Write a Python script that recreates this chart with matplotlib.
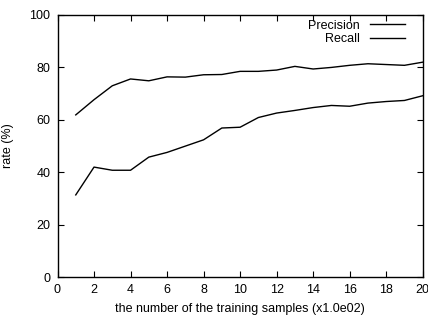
import numpy as np
import matplotlib.pyplot as plt

plt.rcParams['font.family'] = ['Liberation Sans', 'DejaVu Sans']
plt.rcParams['font.size'] = 9

# data
samples = list(range(1, 21))
precision = [61.8, 67.6, 72.9, 75.5, 74.8, 76.3, 76.2, 77.1, 77.2, 78.4,
             78.4, 78.9, 80.3, 79.3, 79.9, 80.7, 81.3, 81.0, 80.7, 81.9]
recall = [31.3, 41.9, 40.7, 40.7, 45.7, 47.5, 49.9, 52.3, 56.8, 57.1,
          60.8, 62.5, 63.5, 64.6, 65.4, 65.1, 66.3, 66.9, 67.3, 69.1]
xticks = list(range(0, 21, 2))
yticks = list(range(0, 101, 20))

fig = plt.figure(figsize=(4.28, 3.16), dpi=100)
ax = fig.add_axes([57.5 / 428, 1 - 277 / 316, (422.7 - 57.5) / 428, (277 - 14.7) / 316])

ax.plot(samples, precision, color='black', lw=1.0, label='Precision')
ax.plot(samples, recall, color='black', lw=1.0, label='Recall')

ax.set_xlim(0, 20)
ax.set_ylim(0, 100)
ax.set_xticks(xticks)
ax.set_yticks(yticks)
ax.tick_params(direction='in', length=4, width=0.8, top=True, right=True, pad=5)
for s in ax.spines.values():
    s.set_linewidth(1.0)

ax.set_xlabel('the number of the training samples (x1.0e02)', labelpad=5)
ax.set_ylabel('rate (%)')
ax.yaxis.set_label_coords(-0.12, 0.5)

ax.legend(loc='upper right', bbox_to_anchor=(0.965, 1.0), frameon=False, markerfirst=False,
          handlelength=2.8, labelspacing=0.1, borderaxespad=0.0, handletextpad=0.8)

fig.savefig('out.png', dpi=100)
